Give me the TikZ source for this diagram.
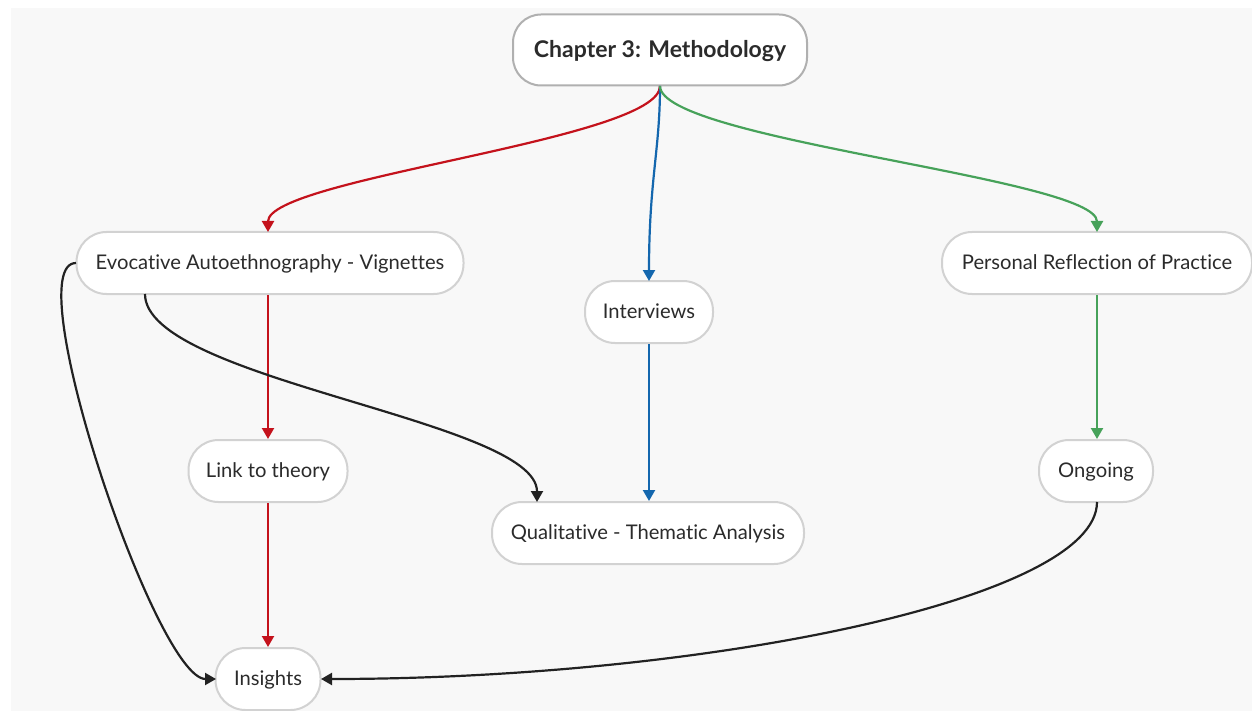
\documentclass[tikz,border=0pt]{standalone}
\usepackage{fontspec}
\setmainfont{Lato}[Ligatures={NoCommon}]
\usetikzlibrary{arrows.meta}
\definecolor{canvas}{HTML}{F8F8F8}
\definecolor{nodeline}{HTML}{D2D2D2}
\definecolor{rootline}{HTML}{B0B0B0}
\definecolor{inktext}{HTML}{2B2B2B}
\definecolor{linkred}{HTML}{C4121C}
\definecolor{linkblue}{HTML}{1467AE}
\definecolor{linkgreen}{HTML}{47A25A}
\definecolor{linkdark}{HTML}{222222}
\tikzset{
  topic/.style={draw=nodeline, line width=2pt, fill=white, rounded corners=30pt,
    minimum height=62pt, inner xsep=10pt, text=inktext,
    font=\fontsize{20.2}{23}\selectfont, text height=14pt, text depth=1pt},
  roottopic/.style={topic, draw=rootline, minimum height=71pt, rounded corners=28pt,
    font=\fontsize{23}{26}\selectfont\bfseries, text height=16pt},
  link/.style={line width=2.2pt, -{Triangle[length=11pt,width=12pt]}},
}
\begin{document}
\begin{tikzpicture}[x=1pt,y=-1pt]
  % page and canvas
  \fill[white] (0,0) rectangle (1252,711);
  \fill[canvas] (11,8) rectangle (1252,711);
  \useasboundingbox (0,0) rectangle (1252,711);

  % topics
  \node[roottopic, minimum width=294pt] (root) at (660,50) {Chapter 3: Methodology};
  \node[topic, minimum width=387pt] (evoc) at (270,263) {Evocative Autoethnography - Vignettes};
  \node[topic, minimum width=128pt] (intv) at (649,312) {Interviews};
  \node[topic, minimum width=310pt] (refl) at (1097,263) {Personal Reflection of Practice};
  \node[topic, minimum width=159pt] (theory) at (268,471) {Link to theory};
  \node[topic, minimum width=312pt] (qual) at (648,533) {Qualitative - Thematic Analysis};
  \node[topic, minimum width=114pt] (ongo) at (1096,471) {Ongoing};
  \node[topic, minimum width=105pt] (ins) at (268,679) {Insights};

  % anchor points on the topic outlines
  \coordinate (rootS) at (660,86);
  \coordinate (evocN) at (268,232);
  \coordinate (intvN) at (649,281);
  \coordinate (reflN) at (1097,232);
  \coordinate (evocW) at (76,263);
  \coordinate (evocS) at (145,294);
  \coordinate (qualN) at (537,502);
  \coordinate (insW) at (216,679);
  \coordinate (insE) at (321,679);
  \coordinate (ongoS) at (1097,502);

  % branches from the central topic
  \draw[link, linkred] (rootS) .. controls (660,140) and (268,178) .. (evocN);
  \draw[link, linkblue] (rootS) .. controls (660,150) and (649,180) .. (intvN);
  \draw[link, linkgreen] (rootS) .. controls (660,140) and (1097,178) .. (reflN);

  % straight sub-branches
  \draw[link, linkred] (evoc.south -| theory) -- (theory.north);
  \draw[link, linkred] (theory.south) -- (ins.north);
  \draw[link, linkblue] (intv.south) -- (qual.north -| intv);
  \draw[link, linkgreen] (refl.south) -- (ongo.north -| refl);

  % cross links
  \draw[link, linkdark] (evocW) .. controls (16,263) and (156,679) .. (insW);
  \draw[link, linkdark] (evocS) .. controls (145,380) and (537,420) .. (qualN);
  \draw[link, linkdark] (ongoS) .. controls (1097,600) and (700,679) .. (insE);
\end{tikzpicture}
\end{document}
